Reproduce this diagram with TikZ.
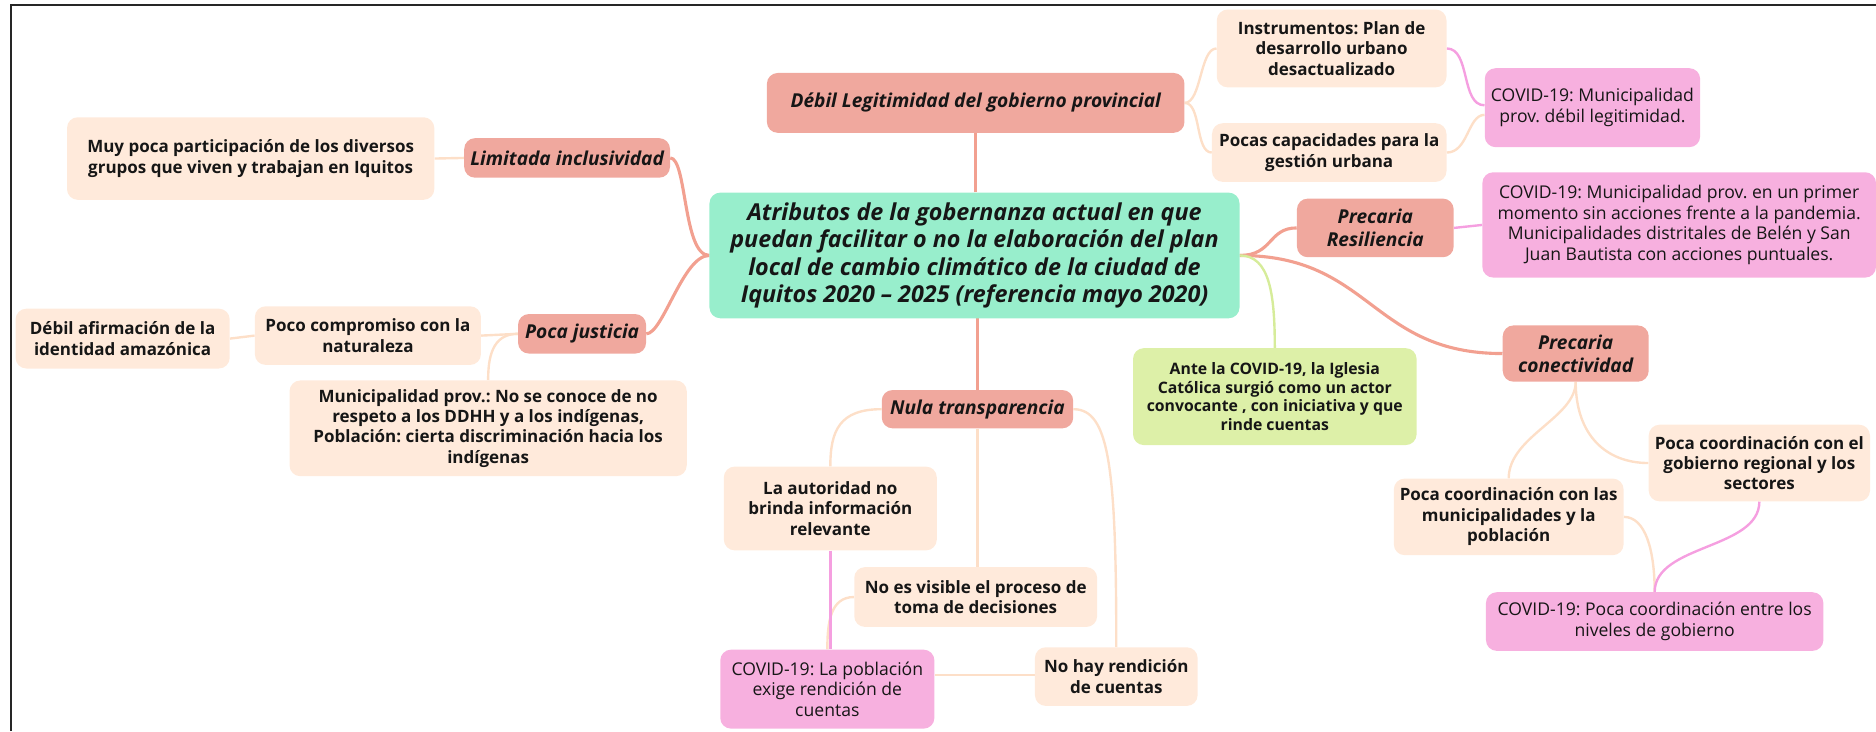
\documentclass[tikz,border=0pt]{standalone}
\usepackage{fontspec}
\setmainfont{Open Sans}
\frenchspacing
\usetikzlibrary{calc,backgrounds}
\definecolor{mint}{HTML}{98EECC}
\definecolor{salmon}{HTML}{F0A89E}
\definecolor{peach}{HTML}{FFEADB}
\definecolor{pinkc}{HTML}{F7B0DF}
\definecolor{limec}{HTML}{DDF0A8}
\definecolor{salmonline}{HTML}{F2A090}
\definecolor{peachline}{HTML}{FDDFC8}
\definecolor{pinkline}{HTML}{F59FE0}
\definecolor{limeline}{HTML}{D6EC9A}
\definecolor{txt}{HTML}{161616}
\tikzset{
  basebox/.style={rounded corners=9pt, inner sep=0pt, align=center, text=txt},
  centerbox/.style={basebox, fill=mint, font=\fontsize{19.5}{23}\selectfont\bfseries\itshape},
  mainbox/.style={basebox, fill=salmon, font=\fontsize{16}{19}\selectfont\bfseries\itshape},
  leafbox/.style={basebox, fill=peach, font=\fontsize{14.2}{17}\selectfont\bfseries},
  covbox/.style={basebox, fill=pinkc, font=\fontsize{14.7}{17.2}\selectfont},
  churchbox/.style={basebox, fill=limec, font=\fontsize{13.2}{15.5}\selectfont\bfseries},
  mainlink/.style={draw=salmonline, line width=2.6pt},
  leaflink/.style={draw=peachline, line width=2pt},
  covlink/.style={draw=pinkline, line width=2pt},
  churchlink/.style={draw=limeline, line width=2pt},
}
\begin{document}
\begin{tikzpicture}[x=1pt,y=-1pt]
\useasboundingbox (0,0) rectangle (1568,611);
% nodes
\node[centerbox, minimum width=443pt, minimum height=105pt] (center) at (814.5,213.5)
  {Atributos de la gobernanza actual en que\\puedan facilitar o no la elaboración del plan\\local de cambio climático de la ciudad de\\Iquitos 2020 – 2025 (referencia mayo 2020)};
\node[mainbox, minimum width=349pt, minimum height=50pt] (legit) at (815.5,86)
  {Débil Legitimidad del gobierno provincial};
\node[leafbox, minimum width=192pt, minimum height=65pt] (instr) at (1113,40.5)
  {Instrumentos: Plan de\\desarrollo urbano\\desactualizado};
\node[leafbox, minimum width=196pt, minimum height=49pt] (pocas) at (1111,127.5)
  {Pocas capacidades para la\\gestión urbana};
\node[covbox, minimum width=180pt, minimum height=66pt] (covmuni) at (1331,90)
  {COVID-19: Municipalidad\\prov. débil legitimidad.};
\node[mainbox, minimum width=172pt, minimum height=33pt] (limit) at (474,132)
  {Limitada inclusividad};
\node[leafbox, minimum width=307pt, minimum height=69pt] (muy) at (209.5,132.5)
  {Muy poca participación de los diversos\\grupos que viven y trabajan en Iquitos};
\node[mainbox, minimum width=107pt, minimum height=33pt] (justicia) at (486.5,279)
  {Poca justicia};
\node[leafbox, minimum width=189pt, minimum height=49pt] (compromiso) at (307.5,280.5)
  {Poco compromiso con la\\naturaleza};
\node[leafbox, minimum width=179pt, minimum height=50pt] (afirm) at (102.5,283)
  {Débil afirmación de la\\identidad amazónica};
\node[leafbox, minimum width=332pt, minimum height=80pt] (munidh) at (408,358)
  {Municipalidad prov.: No se conoce de no\\respeto a los DDHH y a los indígenas,\\Población: cierta discriminación hacia los\\indígenas};
\node[mainbox, minimum width=131pt, minimum height=49pt] (resil) at (1149.5,190.5)
  {Precaria\\Resiliencia};
\node[covbox, minimum width=329pt, minimum height=88pt] (covprim) at (1403.5,188)
  {COVID-19: Municipalidad prov. en un primer\\momento sin acciones frente a la pandemia.\\Municipalidades distritales de Belén y San\\Juan Bautista con acciones puntuales.};
\node[mainbox, minimum width=122pt, minimum height=47pt] (conect) at (1317,295.5)
  {Precaria\\conectividad};
\node[churchbox, minimum width=237pt, minimum height=81pt] (iglesia) at (1065.5,331.5)
  {Ante la COVID-19, la Iglesia\\Católica surgió como un actor\\convocante , con iniciativa y que\\rinde cuentas};
\node[mainbox, minimum width=160pt, minimum height=32pt] (nula) at (817,342)
  {Nula transparencia};
\node[leafbox, minimum width=178pt, minimum height=70pt] (autoridad) at (694,425)
  {La autoridad no\\brinda información\\relevante};
\node[leafbox, minimum width=203pt, minimum height=50pt] (visible) at (815.5,499)
  {No es visible el proceso de\\toma de decisiones};
\node[leafbox, minimum width=136pt, minimum height=49pt] (nohay) at (933,565.5)
  {No hay rendición\\de cuentas};
\node[covbox, minimum width=179pt, minimum height=66pt] (covpob) at (691.5,576)
  {COVID-19: La población\\exige rendición de\\cuentas};
\node[leafbox, minimum width=185pt, minimum height=64pt] (regional) at (1470.5,387)
  {Poca coordinación con el\\gobierno regional y los\\sectores};
\node[leafbox, minimum width=192pt, minimum height=64pt] (munic) at (1261,432)
  {Poca coordinación con las\\municipalidades y la\\población};
\node[covbox, minimum width=282pt, minimum height=49pt] (coventre) at (1383,519.5)
  {COVID-19: Poca coordinación entre los\\niveles de gobierno};
% connectors
\begin{scope}[on background layer]
\draw[mainlink] (center.north -| legit.south) -- (legit.south);
\draw[mainlink] (nula.north |- center.south) -- (nula.north);
\draw[mainlink] (center.west) .. controls ($(center.west)+(-22,0)$) and ($(limit.east)+(14,0)$) .. (limit.east);
\draw[mainlink] (center.west) .. controls ($(center.west)+(-22,0)$) and ($(justicia.east)+(14,0)$) .. (justicia.east);
\draw[mainlink] (center.east) .. controls ($(center.east)+(28,0)$) and ($(resil.west)+(-24,0)$) .. (resil.west);
\draw[mainlink] (center.east) .. controls ($(center.east)+(110,0)$) and ($(conect.west)+(-110,0)$) .. (conect.west);
\draw[churchlink] (center.east) .. controls ($(center.east)+(25,0)$) and ($(iglesia.north)+(0,-45)$) .. (iglesia.north);
% peach links
\draw[leaflink] (legit.east) .. controls ($(legit.east)+(14,0)$) and ($(instr.west)+(-14,0)$) .. (instr.west);
\draw[leaflink] (legit.east) .. controls ($(legit.east)+(14,0)$) and ($(pocas.west)+(-14,0)$) .. (pocas.west);
\draw[leaflink] (pocas.east) .. controls ($(pocas.east)+(18,0)$) and ($(covmuni.west)+(-14,6)$) .. ($(covmuni.west)+(0,6)$);
\draw[leaflink] (limit.west) -- (muy.east);
\draw[leaflink] (justicia.west) -- (compromiso.east);
\draw[leaflink] (justicia.west) .. controls ($(justicia.west)+(-22,0)$) and ($(munidh.north)+(0,-18)$) .. (munidh.north);
\draw[leaflink] (compromiso.west) -- (afirm.east);
\draw[leaflink] (nula.west) .. controls ($(nula.west)+(-35,0)$) and ($(autoridad.north)+(0,-30)$) .. (autoridad.north);
\draw[leaflink] (nula.south) -- (nula.south |- visible.north);
\draw[leaflink] (nula.east) .. controls ($(nula.east)+(30,0)$) and ($(nohay.north)+(0,-150)$) .. (nohay.north);
\draw[leaflink] (visible.west) .. controls ($(visible.west)+(-20,0)$) and ($(covpob.north)+(0,-22)$) .. (covpob.north);
\draw[leaflink] (nohay.west |- covpob.east) ++(0,-12) coordinate (nh) -- (nh -| covpob.east);
\draw[leaflink] (conect.south) .. controls ($(conect.south)+(0,30)$) and ($(munic.north)+(0,-35)$) .. (munic.north);
\draw[leaflink] (conect.south) .. controls ($(conect.south)+(0,45)$) and ($(regional.west)+(-35,0)$) .. (regional.west);
\draw[leaflink] (munic.east) .. controls ($(munic.east)+(18,0)$) and ($(coventre.north)+(0,-35)$) .. (coventre.north);
% pink links
\draw[covlink] (instr.east) .. controls ($(instr.east)+(20,0)$) and ($(covmuni.west)+(-20,-2)$) .. ($(covmuni.west)+(0,-2)$);
\draw[covlink] (resil.east) -- (covprim.west);
\draw[covlink] (autoridad.south) -- (autoridad.south |- covpob.north);
\draw[covlink] (regional.south) .. controls ($(regional.south)+(0,40)$) and ($(coventre.north)+(0,-40)$) .. (coventre.north);
\end{scope}
% frame
\draw[line width=1.6pt, black!85] (9,611) -- (9,4) -- (1568,4);
\end{tikzpicture}
\end{document}
